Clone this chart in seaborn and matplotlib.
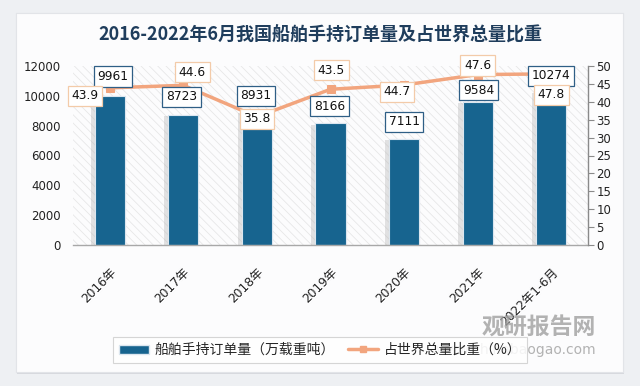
import numpy as np
import pandas as pd
import matplotlib
matplotlib.use("Agg")
import matplotlib.pyplot as plt
import matplotlib.patheffects as pe
from matplotlib.patches import Rectangle, Patch
from matplotlib.lines import Line2D
import seaborn as sns

# ==========================
# DATOS
# ==========================
years = ["2016年", "2017年", "2018年", "2019年", "2020年", "2021年", "2022年1-6月"]
orders = [9961, 8723, 8931, 8166, 7111, 9584, 10274]      # 万载重吨
share = [43.9, 44.6, 35.8, 43.5, 44.7, 47.6, 47.8]        # %

df = pd.DataFrame({"year": years, "orders": orders, "share": share})

# offsets of the labels (pixels)
bar_lab_off = [(3, 20), (-2, 18), (-1, 16), (-1, 17), (0, 17), (1, 12), (0, 16)]
line_lab_off = [(-25, -8), (9, 13), (0, -2), (1, 19), (-7, -7), (0, 9), (0, -21)]

BAR = "#17648f"
LINE = "#f2a57e"
TITLE = "#1f3d5c"

sns.set_theme(style="white")
plt.rcParams["font.family"] = ["DejaVu Sans", "Noto Sans CJK SC"]
plt.rcParams["hatch.linewidth"] = 0.5
plt.rcParams["axes.unicode_minus"] = False

fig = plt.figure(figsize=(6.4, 3.86), dpi=100, facecolor="#eef0f3")

# tarjeta blanca
card = Rectangle((16 / 640, 1 - 372 / 386), (623 - 16) / 640, (372 - 13) / 386,
                 transform=fig.transFigure, facecolor="#fcfcfd", edgecolor="#e2e4e8",
                 lw=0.8, zorder=-10,
                 path_effects=[pe.withSimplePatchShadow(offset=(1, -1.5), shadow_rgbFace="#c8cbd0", alpha=0.6),
                               pe.Normal()])
fig.patches.append(card)

ax = fig.add_axes([73 / 640, 1 - 245 / 386, (588 - 73) / 640, (245 - 66) / 386])
ax.set_facecolor("none")
ax.add_patch(Rectangle((0, 0), 1, 1, transform=ax.transAxes, facecolor="#fcfcfd",
                       edgecolor="#e4e4e4", hatch="\\\\\\\\", lw=0, zorder=0))

# ==========================
# BARRAS
# ==========================
sns.barplot(data=df, x="year", y="orders", color=BAR, saturation=1, width=0.41,
            edgecolor="#dce6ef", linewidth=0.8, ax=ax, zorder=2)
for p in ax.patches[1:]:
    p.set_path_effects([pe.withSimplePatchShadow(offset=(-3, -1), shadow_rgbFace="#b0b0b0", alpha=0.35),
                        pe.Normal()])

ax.set_ylim(0, 12000)
ax.set_yticks(np.arange(0, 12001, 2000))
ax.set_xlim(-0.5, len(years) - 0.5)
ax.set_xlabel("")
ax.set_ylabel("")
for s in ["top", "right", "left"]:
    ax.spines[s].set_visible(False)
ax.spines["bottom"].set_color("#a8a8a8")
ax.spines["bottom"].set_linewidth(1.0)
ax.tick_params(axis="y", length=0, labelsize=8.5, labelcolor="#222222", pad=9)
ax.tick_params(axis="x", length=0, labelsize=8.8, labelcolor="#222222", pad=15)
for t in ax.get_xticklabels():
    t.set_rotation(45)
    t.set_ha("right")
    t.set_rotation_mode("anchor")

# ==========================
# LÍNEA (eje derecho)
# ==========================
ax2 = ax.twinx()
sns.lineplot(data=df, x="year", y="share", color=LINE, lw=2.5, marker="s",
             markersize=6, markeredgecolor=LINE, ax=ax2, sort=False, zorder=3)
ax2.set_ylim(0, 50)
ax2.set_yticks(np.arange(0, 51, 5))
ax2.set_xlim(-0.5, len(years) - 0.5)
ax2.set_ylabel("")
ax2.set_xlabel("")
for s in ["top", "left", "bottom"]:
    ax2.spines[s].set_visible(False)
ax2.spines["right"].set_color("#8a8a8a")
ax2.spines["right"].set_linewidth(1.0)
ax2.tick_params(axis="y", direction="out", length=4, width=0.8, color="#8a8a8a",
                labelsize=8.5, labelcolor="#222222", pad=2, right=True)

# etiquetas
for i, (v, off) in enumerate(zip(orders, bar_lab_off)):
    ax2.annotate(f"{v}", xy=(i, v), xycoords=ax.transData, xytext=off,
                 textcoords="offset pixels", ha="center", va="center", fontsize=8.8,
                 color="#111111", zorder=5,
                 bbox=dict(boxstyle="square,pad=0.3", fc="white", ec="#2f5f86", lw=0.9))
for i, (v, off) in enumerate(zip(share, line_lab_off)):
    ax2.annotate(f"{v}", xy=(i, v), xytext=off, textcoords="offset pixels",
                 ha="center", va="center", fontsize=8.8, color="#111111", zorder=6,
                 bbox=dict(boxstyle="square,pad=0.3", fc="white", ec="#f3cba9", lw=0.9))

# ==========================
# TÍTULO, MARCA DE AGUA, LEYENDA
# ==========================
fig.text(0.5, 1 - 35 / 386, "2016-2022年6月我国船舶手持订单量及占世界总量比重",
         ha="center", va="center", fontsize=13, fontweight="bold", color=TITLE,
         family=["Noto Sans CJK SC", "DejaVu Sans"])

fig.text(596 / 640, 1 - 328 / 386, "观研报告网", ha="right", va="center", fontsize=16.5,
         fontweight="bold", color="#a0a0a0", alpha=0.8, family=["Noto Sans CJK SC"])
fig.text(596 / 640, 1 - 350 / 386, "www.chinabaogao.com", ha="right", va="center",
         fontsize=10, color="#a0a0a0", alpha=0.8)

handles = [Patch(facecolor=BAR, edgecolor="#dce6ef"),
           Line2D([0], [0], color=LINE, lw=2.5, marker="s", markersize=5)]
labels = ["船舶手持订单量（万载重吨）", "占世界总量比重（%）"]
leg = fig.legend(handles, labels, loc="center", bbox_to_anchor=(0.5, 1 - 350 / 386),
                 ncol=2, frameon=True, fancybox=False, handlelength=2.2,
                 handleheight=0.6, columnspacing=0.9, handletextpad=0.4,
                 borderpad=0.4, prop={"family": ["Noto Sans CJK SC", "DejaVu Sans"], "size": 10})
leg.get_frame().set_edgecolor("#cfcfcf")
leg.get_frame().set_facecolor("white")
leg.get_frame().set_alpha(0.85)
leg.get_frame().set_linewidth(0.8)

fig.savefig("out.png", dpi=100, facecolor=fig.get_facecolor())
